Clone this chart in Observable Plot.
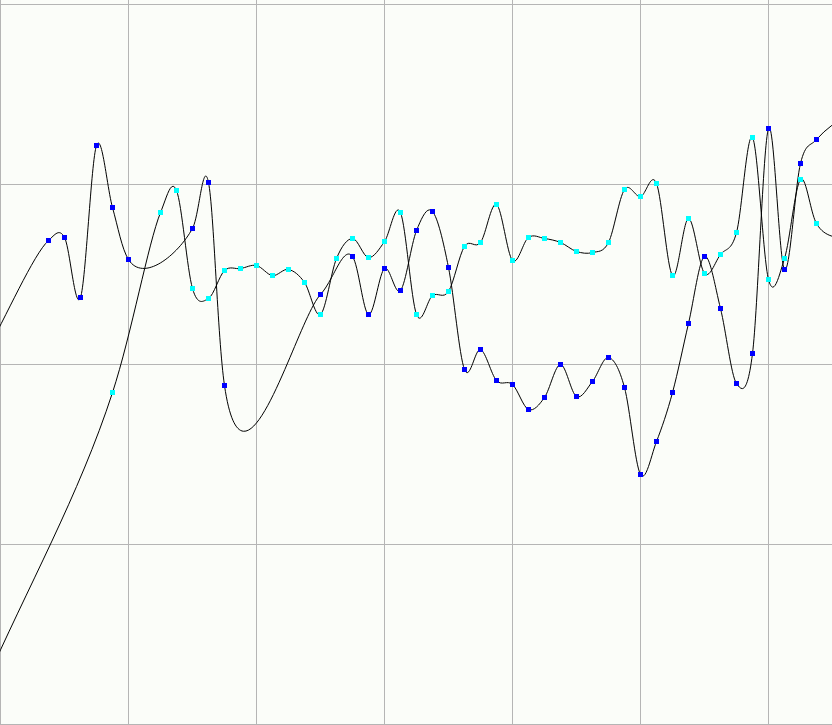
<!DOCTYPE html>
<html>
<head>
<meta charset="utf-8">
<script src="https://cdn.jsdelivr.net/npm/d3@7"></script>
<script src="https://cdn.jsdelivr.net/npm/@observablehq/plot@0.6"></script>
<style>
  html, body { margin: 0; padding: 0; background: #fbfdf9; }
  #chart svg { display: block; }
</style>
</head>
<body>
<div id="chart"></div>
<script>
// x positions (sample index); null = no sample for that series
const steps = [-1, 0, 1, 2, 3, 4, 5, 6, 7, 8, 9, 10, 11, 12, 13, 14, 15, 16, 17, 18, 19, 20,
  21, 22, 23, 24, 25, 26, 27, 28, 29, 30, 31, 32, 33, 34, 35, 36, 37, 38, 39, 40,
  41, 42, 43, 44, 45, 46, 47, 48, 49, 50, 51, 52, 53];

const blueSeries = [5.0, null, null, null, 68.9, 70.6, 37.2, 121.7, 87.2, 58.3, null, null, null, 75.6, 101.1, -11.7,
  null, null, null, null, null, 38.9, null, 60.0, 27.8, 53.3, 41.1, 74.4, 85.0, 53.9, -2.8,
  8.3, -8.9, -11.1, -25.0, -18.3, 0.0, -17.8, -9.4, 3.9, -12.8, -61.1, -42.8, -15.6, 22.8,
  60.0, 31.1, -10.6, 6.1, 131.1, 52.8, 111.7, 125.0, null, 140.0];

const cyanSeries = [-178.3, null, null, null, null, null, null, null, -15.6, null, null, 84.4, 96.7, 42.2, 36.7, 52.2,
  53.3, 55.0, 49.4, 52.8, 45.6, 27.8, 58.9, 70.0, 59.4, 68.3, 84.4, 27.8, 38.3, 40.6, 65.6,
  67.8, 88.9, 57.8, 70.6, 70.0, 67.8, 62.8, 62.2, 67.8, 97.2, 93.3, 100.6, 49.4, 81.1,
  50.6, 61.1, 73.3, 126.1, 47.2, 58.9, 102.8, 78.3, null, 68.3];

const gridXTicks = [0, 8, 16, 24, 32, 40, 48];
const gridYTicks = [-200, -100, 0, 100, 200];

const blue = steps.map((x, i) => ({x, y: blueSeries[i]})).filter(d => d.y != null);
const cyan = steps.map((x, i) => ({x, y: cyanSeries[i]})).filter(d => d.y != null);

// Catmull-Rom spline with knot spacing |dx|^alpha (d3 curve factory)
function curveCatmullRomX(alpha) {
  return function(context) {
    let xs, ys;
    return {
      areaStart() {}, areaEnd() {},
      lineStart() { xs = []; ys = []; },
      point(x, y) { xs.push(+x); ys.push(+y); },
      lineEnd() {
        const n = xs.length;
        if (!n) return;
        context.moveTo(xs[0], ys[0]);
        const k = i => Math.pow(Math.abs(xs[i + 1] - xs[i]), alpha);
        for (let i = 0; i < n - 1; i++) {
          const d1 = k(i);
          const sx = (xs[i + 1] - xs[i]) / d1, sy = (ys[i + 1] - ys[i]) / d1;
          let v1x = sx, v1y = sy, v2x = sx, v2y = sy;
          if (i > 0) {
            const d0 = k(i - 1);
            v1x = (xs[i] - xs[i - 1]) / d0 - (xs[i + 1] - xs[i - 1]) / (d0 + d1) + sx;
            v1y = (ys[i] - ys[i - 1]) / d0 - (ys[i + 1] - ys[i - 1]) / (d0 + d1) + sy;
          }
          if (i < n - 2) {
            const d2 = k(i + 1);
            v2x = sx - (xs[i + 2] - xs[i]) / (d1 + d2) + (xs[i + 2] - xs[i + 1]) / d2;
            v2y = sy - (ys[i + 2] - ys[i]) / (d1 + d2) + (ys[i + 2] - ys[i + 1]) / d2;
          }
          context.bezierCurveTo(xs[i] + v1x * d1 / 3, ys[i] + v1y * d1 / 3,
                                xs[i + 1] - v2x * d1 / 3, ys[i + 1] - v2y * d1 / 3,
                                xs[i + 1], ys[i + 1]);
        }
      }
    };
  };
}
const splineCurve = curveCatmullRomX(0.58);

const chart = Plot.plot({
  width: 832,
  height: 725,
  margin: 0,
  style: {background: "#fbfdf9", overflow: "hidden"},
  x: {domain: [0, 48], range: [0, 768], axis: null},
  y: {domain: [-200, 200], range: [724, 4], axis: null},
  marks: [
    Plot.ruleX(gridXTicks, {stroke: "#b5b5b5", strokeOpacity: 1, strokeWidth: 1}),
    Plot.ruleY(gridYTicks, {stroke: "#b5b5b5", strokeOpacity: 1, strokeWidth: 1}),
    Plot.line(blue, {x: "x", y: "y", curve: splineCurve, stroke: "black", strokeWidth: 1, clip: true}),
    Plot.line(cyan, {x: "x", y: "y", curve: splineCurve, stroke: "black", strokeWidth: 1, clip: true}),
    Plot.dot(blue, {x: "x", y: "y", symbol: "square", r: 3.1, fill: "#0000ff", stroke: null, clip: true, shapeRendering: "crispEdges"}),
    Plot.dot(cyan, {x: "x", y: "y", symbol: "square", r: 3.1, fill: "#00ffff", stroke: null, clip: true, shapeRendering: "crispEdges"})
  ]
});
document.getElementById("chart").appendChild(chart);
</script>
</body>
</html>
